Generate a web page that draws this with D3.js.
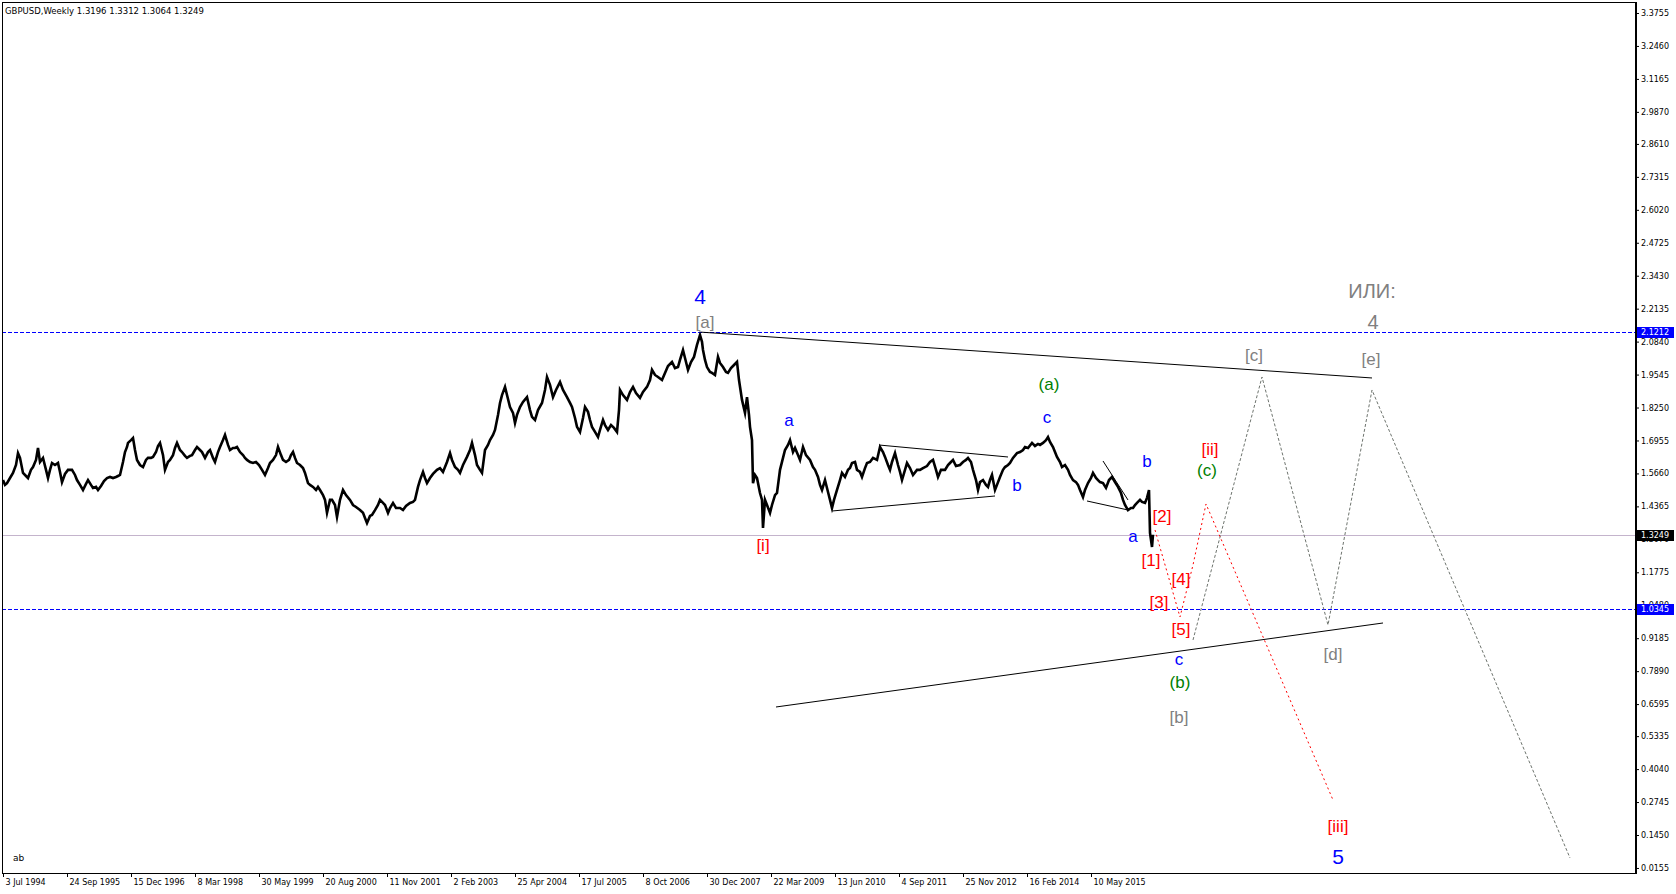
<!DOCTYPE html>
<html><head><meta charset="utf-8">
<script src="https://cdn.jsdelivr.net/npm/d3@7"></script>
<style>body{margin:0;background:#fff} svg{display:block}</style>
</head><body><svg id="c" width="1676" height="894"></svg>
<script>
// ---- DATA ----
const title = "GBPUSD,Weekly  1.3196 1.3312 1.3064 1.3249";
// weeks since 3 Jul 1994, weekly close (sampled)
const weeks = [0,2,4,7,10,13,15,17,20,23,25,28,30,33,35,37,40,43,45,47,49,52,55,57,59,62,65,69,72,74,77,80,83,85,88,90,93,95,98,101,104,107,110,113,115,117,120,122,124,125,128,130,132,134,137,140,143,145,148,150,153,155,157,160,162,165,167,170,172,174,177,179,182,184,187,189,192,194,197,199,202,205,207,210,212,215,217,220,222,225,227,230,232,234,237,240,242,244,247,250,253,256,259,262,265,267,270,273,275,278,280,283,286,288,290,292,294,297,300,302,305,307,310,313,315,317,320,322,324,327,329,332,334,337,340,343,347,350,353,357,360,362,364,367,369,372,375,377,380,382,385,387,390,393,397,400,403,407,410,412,415,
417,420,422,424,427,430,434,437,440,444,447,449,452,455,457,460,464,467,469,472,474,477,479,482,485,487,490,492,495,497,499,502,504,507,510,512,514,517,520,524,527,529,532,535,539,542,544,547,550,553,557,560,564,567,569,572,574,577,580,582,585,587,589,592,595,597,600,602,605,608,611,614,616,617,620,624,627,630,633,637,640,644,647,649,652,655,659,662,665,669,672,675,677,680,683,685,688,691,694,697,699,700,702,704,707,709,712,715,717,720,723,725,728,731,734,736,739,742,744,746,747,749,750,752,754,757,759,760,762,764,767,769,772,774,777,780,782,785,787,790,792,795,797,
800,803,807,810,812,815,817,819,822,825,827,829,831,834,837,839,842,845,847,849,852,854,857,859,862,864,867,870,874,877,880,882,885,887,889,892,895,897,899,902,904,907,910,914,917,920,924,927,930,933,935,938,942,945,947,950,953,957,960,963,965,968,970,973,975,977,980,983,985,987,989,992,994,997,1000,1002,1005,1007,1010,1014,1017,1020,1022,1025,1029,1032,1035,1037,1040,1043,1045,1047,1050,1052,1054,1057,1059,1062,1065,1067,1070,1073,1075,1077,1080,1082,1085,1088,1090,1093,1095,1097,1100,1103,1106,1109,1112,1115,1118,1120,1122,1125,1128,1130,1132,1134,1137,1139,1142,1144,1146,1147,1149,1150];
const closes = [1.540,1.521,1.528,1.548,1.568,1.599,1.646,1.627,1.568,1.556,1.548,1.580,1.591,1.619,1.666,1.611,1.627,1.580,1.548,1.580,1.607,1.599,1.607,1.572,1.532,1.564,1.580,1.580,1.560,1.540,1.521,1.501,1.525,1.540,1.521,1.509,1.513,1.501,1.517,1.536,1.548,1.552,1.548,1.552,1.556,1.560,1.611,1.650,1.670,1.686,1.697,1.705,1.658,1.619,1.599,1.591,1.619,1.627,1.627,1.631,1.650,1.674,1.686,1.638,1.580,1.611,1.619,1.638,1.666,1.686,1.658,1.650,1.635,1.627,1.635,1.638,1.658,1.670,1.658,1.650,1.627,1.650,1.658,1.627,1.611,1.650,1.670,1.697,1.717,1.678,1.658,1.666,1.666,1.670,1.650,1.638,1.627,1.619,1.611,1.607,1.611,1.599,1.580,1.560,1.587,1.607,1.619,1.638,1.670,1.638,1.619,1.611,1.619,1.638,1.650,1.627,1.607,1.599,1.587,1.568,1.528,1.521,1.513,1.501,1.513,1.501,1.481,1.462,1.411,1.462,1.462,1.442,1.395,1.462,1.501,1.481,1.462,1.442,1.434,1.422,1.411,1.391,1.371,1.399,1.403,1.422,1.442,1.462,1.450,1.442,1.411,1.430,1.450,1.430,1.430,1.422,1.438,1.450,1.454,1.462,1.513,
1.540,1.572,1.548,1.528,1.548,1.564,1.580,1.587,1.572,1.611,1.646,1.619,1.591,1.580,1.568,1.599,1.631,1.658,1.686,1.638,1.599,1.580,1.568,1.658,1.678,1.697,1.717,1.737,1.796,1.843,1.874,1.906,1.874,1.827,1.804,1.764,1.796,1.827,1.847,1.866,1.815,1.788,1.776,1.815,1.843,1.894,1.945,1.914,1.866,1.894,1.925,1.894,1.866,1.843,1.827,1.784,1.749,1.729,1.784,1.827,1.808,1.776,1.749,1.729,1.709,1.737,1.776,1.756,1.737,1.756,1.745,1.729,1.815,1.894,1.874,1.855,1.886,1.906,1.882,1.863,1.886,1.906,1.933,1.973,1.953,1.945,1.933,1.961,1.988,2.004,1.980,1.984,2.012,2.051,2.004,1.973,2.004,2.024,2.071,2.110,2.083,2.051,2.012,1.984,1.965,1.961,1.953,2.024,2.000,1.984,1.965,1.961,1.980,1.992,2.004,1.933,1.855,1.804,1.866,1.796,1.749,1.697,1.528,1.560,1.548,1.489,1.462,1.352,1.462,1.442,1.411,1.442,1.481,1.489,1.580,1.627,1.658,1.678,1.697,1.650,1.666,1.638,1.619,
1.670,1.638,1.619,1.591,1.580,1.552,1.521,1.501,1.540,1.493,1.462,1.430,1.462,1.501,1.540,1.568,1.552,1.580,1.587,1.607,1.611,1.580,1.572,1.552,1.587,1.607,1.611,1.627,1.619,1.670,1.650,1.631,1.599,1.580,1.611,1.646,1.599,1.572,1.540,1.580,1.607,1.587,1.560,1.580,1.580,1.587,1.595,1.611,1.619,1.580,1.552,1.580,1.580,1.599,1.607,1.619,1.595,1.599,1.611,1.619,1.627,1.611,1.580,1.540,1.501,1.532,1.540,1.521,1.513,1.540,1.560,1.501,1.521,1.552,1.580,1.591,1.599,1.607,1.627,1.646,1.650,1.658,1.670,1.666,1.686,1.674,1.682,1.678,1.686,1.697,1.709,1.690,1.670,1.650,1.631,1.611,1.591,1.599,1.580,1.560,1.540,1.532,1.521,1.501,1.473,1.501,1.528,1.548,1.568,1.548,1.540,1.532,1.528,1.509,1.540,1.552,1.532,1.513,1.489,1.462,1.442,1.422,1.430,1.430,1.442,1.450,1.462,1.454,1.450,1.470,1.501,1.332,1.277,1.325];

const yTickValues = [3.3755,3.2460,3.1165,2.9870,2.8610,2.7315,2.6020,2.4725,2.3430,2.2135,2.0840,1.9545,1.8250,1.6955,1.5660,1.4365,1.3070,1.1775,1.0480,0.9185,0.7890,0.6595,0.5335,0.4040,0.2745,0.1450,0.0155];
const xTickLabels = ["3 Jul 1994","24 Sep 1995","15 Dec 1996","8 Mar 1998","30 May 1999","20 Aug 2000","11 Nov 2001","2 Feb 2003","25 Apr 2004","17 Jul 2005","8 Oct 2006","30 Dec 2007","22 Mar 2009","13 Jun 2010","4 Sep 2011","25 Nov 2012","16 Feb 2014","10 May 2015"];
const xTickWeeks = [0,64,128,192,256,320,384,448,512,576,640,704,768,832,896,960,1024,1088];

const levelLines = [2.1212, 1.0345];
const bidPrice = 1.3249;

// trendlines: [week1, price1, week2, price2]
const trendlines = [
  [698, 2.1212, 1369, 1.9411],
  [773, 0.6481, 1380, 0.9782],
  [876, 1.6777, 1005, 1.6306],
  [829, 1.4183, 992, 1.4773],
  [1100, 1.6149, 1125, 1.4616],
  [1084, 1.4577, 1125, 1.4223]
];
// projected paths
const redWeeks = [1152, 1177, 1190, 1203, 1330];
const redPrices = [1.3437, 1.0018, 1.2062, 1.4459, 0.2826];
const greyWeeks = [1190, 1259, 1325, 1369, 1567];
const greyPrices = [0.9114, 1.9450, 0.9704, 1.8939, 0.0547];

// wave labels: text, week, price, degree
const waveLabels = [
  ["4", 697, 2.2594, "bigBlue"],
  ["[a]", 702, 2.1611, "grey"],
  ["a", 786, 1.7721, "blue"],
  ["[i]", 760, 1.2808, "red"],
  ["(a)", 1046, 1.9136, "green"],
  ["c", 1044, 1.7839, "blue"],
  ["b", 1014, 1.5166, "blue"],
  ["b", 1144, 1.6110, "blue"],
  ["a", 1130, 1.3162, "blue"],
  ["[2]", 1159, 1.3948, "red"],
  ["[1]", 1148, 1.2219, "red"],
  ["[4]", 1178, 1.1472, "red"],
  ["[3]", 1156, 1.0607, "red"],
  ["[5]", 1178, 0.9507, "red"],
  ["c", 1176, 0.8328, "blue"],
  ["(b)", 1177, 0.7463, "green"],
  ["[b]", 1176, 0.6049, "grey"],
  ["[ii]", 1207, 1.6620, "red"],
  ["(c)", 1204, 1.5756, "green"],
  ["[c]", 1251, 2.0275, "grey"],
  ["[e]", 1368, 2.0118, "grey"],
  ["ИЛИ:", 1369, 2.2830, "bigGrey"],
  ["4", 1370, 2.1611, "bigGrey"],
  ["[d]", 1330, 0.8525, "grey"],
  ["[iii]", 1335, 0.1804, "red"],
  ["5", 1335, 0.0625, "bigBlue"]
];

// ---- STYLES ----
const degStyle = {
  bigBlue: {fill:"#0000ff", size:21},
  blue: {fill:"#0000ff", size:17},
  grey: {fill:"#808080", size:17},
  bigGrey: {fill:"#808080", size:20},
  red: {fill:"#ff0000", size:17},
  green: {fill:"#008000", size:17}
};

// ---- CHART ----
const W = 1676, H = 894;
const L = 2, R = 1636, T = 2, B = 873;
const svg = d3.select("#c");
svg.append("rect").attr("width", W).attr("height", H).attr("fill", "#fff");

const x = d3.scaleLinear().domain([-1, 1633]).range([L, R]);
const y = d3.scaleLinear().domain([-0.0043, 3.4187]).range([B, T]);

const plot = svg.append("g");

// frame
svg.append("rect").attr("x", L + 0.5).attr("y", T + 0.5).attr("width", R - L).attr("height", B - T)
  .attr("fill", "none").attr("stroke", "#000").attr("stroke-width", 1);

// bid line
plot.append("line").attr("x1", L).attr("x2", R).attr("y1", Math.round(y(bidPrice)) + 0.5).attr("y2", Math.round(y(bidPrice)) + 0.5)
  .attr("stroke", "#c4b4cc").attr("stroke-width", 1);

// level lines
levelLines.forEach(v => {
  const yy = Math.round(y(v)) + 0.5;
  plot.append("line").attr("x1", L).attr("x2", R).attr("y1", yy).attr("y2", yy)
    .attr("stroke", "#0000ff").attr("stroke-width", 1).attr("stroke-dasharray", "4,2");
});

// price series
const pts = weeks.map((w, i) => [w, closes[i]]);
plot.append("path").datum(pts)
  .attr("d", d3.line().x(d => x(d[0])).y(d => y(d[1])))
  .attr("fill", "none").attr("stroke", "#000").attr("stroke-width", 2.6).attr("stroke-linejoin", "miter").attr("stroke-miterlimit", 6);

// trendlines
trendlines.forEach(t => {
  plot.append("line").attr("x1", x(t[0])).attr("y1", y(t[1])).attr("x2", x(t[2])).attr("y2", y(t[3]))
    .attr("stroke", "#000").attr("stroke-width", 1);
});

// projections
const lineGen = d3.line().x(d => x(d[0])).y(d => y(d[1]));
plot.append("path").datum(greyWeeks.map((w, i) => [w, greyPrices[i]]))
  .attr("d", lineGen).attr("fill", "none").attr("stroke", "#6e746e").attr("stroke-width", 1).attr("stroke-dasharray", "3,2");
plot.append("path").datum(redWeeks.map((w, i) => [w, redPrices[i]]))
  .attr("d", lineGen).attr("fill", "none").attr("stroke", "#ff0000").attr("stroke-width", 1).attr("stroke-dasharray", "2,3");

// wave labels
plot.selectAll("text.wave").data(waveLabels).enter().append("text")
  .attr("class", "wave")
  .attr("x", d => x(d[1])).attr("y", d => y(d[2]))
  .attr("text-anchor", "middle").attr("dominant-baseline", "central")
  .attr("font-family", "'Liberation Sans', Arial, sans-serif")
  .attr("font-size", d => degStyle[d[3]].size)
  .attr("fill", d => degStyle[d[3]].fill)
  .text(d => d[0]);

// y axis (right)
const fmt = d3.format(".4f");
const yAxis = d3.axisRight(y).tickValues(yTickValues).tickSize(3).tickPadding(2).tickFormat(fmt);
const gy = svg.append("g").attr("transform", `translate(${R},0)`).call(yAxis);
gy.select(".domain").remove();
gy.selectAll("text").attr("font-family", "'DejaVu Sans', sans-serif").attr("font-size", 8).attr("fill", "#000");
gy.selectAll("line").attr("stroke", "#000");
svg.append("line").attr("x1", R).attr("x2", R).attr("y1", T).attr("y2", B + 1).attr("stroke", "#000").attr("stroke-width", 2);

// highlighted price labels
const tags = [[2.1212, "#0000ff"], [bidPrice, "#000000"], [1.0345, "#0000ff"]];
tags.forEach(([v, c]) => {
  const yy = Math.round(y(v));
  svg.append("rect").attr("x", R + 1).attr("y", yy - 5).attr("width", 37).attr("height", 11).attr("fill", c);
  svg.append("text").attr("x", R + 5).attr("y", yy).attr("dominant-baseline", "central")
    .attr("font-family", "'DejaVu Sans', sans-serif").attr("font-size", 8).attr("fill", "#fff").text(fmt(v));
});

// x axis
const xAxis = d3.axisBottom(x).tickValues(xTickWeeks).tickSize(4).tickFormat((d, i) => xTickLabels[i]);
const gx = svg.append("g").attr("transform", `translate(0,${B})`).call(xAxis);
gx.select(".domain").remove();
gx.selectAll("line").attr("stroke", "#000");
gx.selectAll("text").attr("text-anchor", "start").attr("dx", 2).attr("dy", "0.6em")
  .attr("font-family", "'DejaVu Sans', sans-serif").attr("font-size", 8).attr("fill", "#000");

// title & corner text
svg.append("text").attr("x", 5).attr("y", 11).attr("dominant-baseline", "central")
  .attr("font-family", "'DejaVu Sans', sans-serif").attr("font-size", 8.5).attr("fill", "#000").text(title);
svg.append("text").attr("x", 13).attr("y", 858).attr("dominant-baseline", "central")
  .attr("font-family", "'DejaVu Sans', sans-serif").attr("font-size", 9).attr("fill", "#000").text("ab");
</script></body></html>
